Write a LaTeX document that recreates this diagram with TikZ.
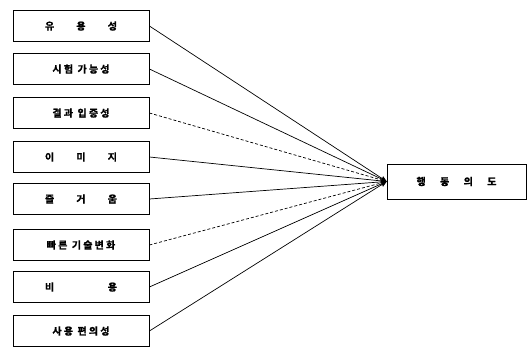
\documentclass[tikz,border=0pt]{standalone}
\usepackage{fontspec}
\newfontfamily\kr[LetterSpace=22,FakeBold=1.2]{Noto Sans CJK KR Bold}
\usetikzlibrary{arrows.meta}
\begin{document}
\begin{tikzpicture}[x=1pt,y=-1pt,
  src/.style={draw,line width=0.8pt,minimum width=136pt,minimum height=31pt,inner sep=0pt,font=\kr\fontsize{10}{11}\selectfont},
  dst/.style={draw,line width=0.6pt,minimum width=139pt,minimum height=35pt,inner sep=0pt,font=\kr\fontsize{10}{11}\selectfont},
  link/.style={line width=0.7pt,-{Stealth[length=6pt,width=5pt]}},
  dlink/.style={link,dash pattern=on 3pt off 2pt}]
\useasboundingbox (0,0) rectangle (527,347);
\clip (0,0) rectangle (527,347);
\node[src] (a) at (81,26) {\makebox[72pt][s]{유 용 성}};
\node[src] (b) at (81,69) {시험 가능성};
\node[src] (c) at (81,113) {결과 입증성};
\node[src] (d) at (81,157) {\makebox[72pt][s]{이 미 지}};
\node[src] (e) at (81,199) {\makebox[72pt][s]{즐 거 움}};
\node[src] (f) at (81,245) {빠른 기술변화};
\node[src] (g) at (81,287) {\makebox[72pt][s]{비 용}};
\node[src] (h) at (81,331) {사용 편의성};
\node[dst] (t) at (456.5,181.5) {\makebox[80pt][s]{행 동 의 도}};
\draw[link] (a.east) -- (t.west);
\draw[link] (b.east) -- (t.west);
\draw[dlink] (c.east) -- (t.west);
\draw[link] (d.east) -- (t.west);
\draw[link] (e.east) -- (t.west);
\draw[dlink] (f.east) -- (t.west);
\draw[link] (g.east) -- (t.west);
\draw[link] (h.east) -- (t.west);
\end{tikzpicture}
\end{document}
